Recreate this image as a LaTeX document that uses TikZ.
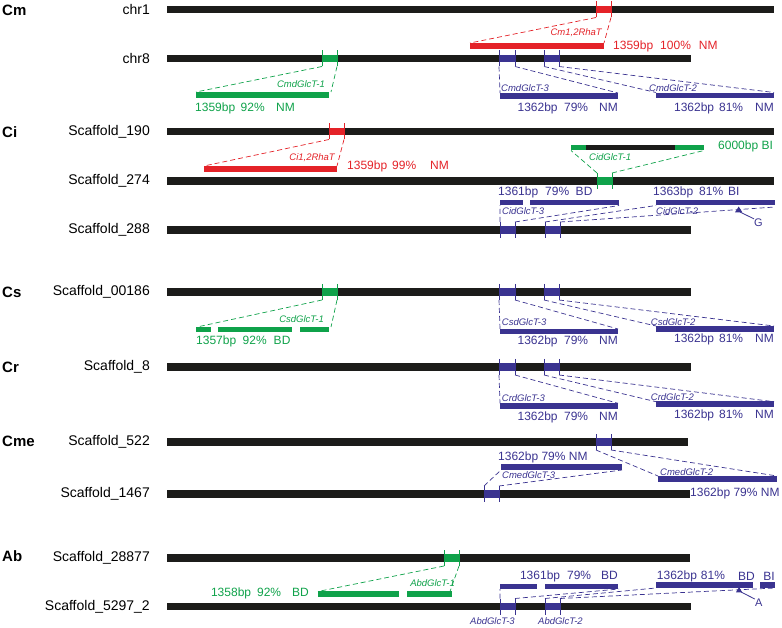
\documentclass[tikz,border=0pt]{standalone}
\usepackage{fontspec}
\setmainfont{Liberation Sans}
\definecolor{chrc}{HTML}{1C1C1A}
\definecolor{rd}{HTML}{E42228}
\definecolor{gr}{HTML}{0FA24A}
\definecolor{bl}{HTML}{3A3390}
\newcommand\chrbar[4]{% name, y, xend, label
  \fill[chrc] (167,#2-3.75) rectangle (#3,#2+3.75);
  \node[chrlbl] (#1) at (150,#2) {#4};
}
\newcommand\hitbox[4]{% color, x1, x2, y
  \fill[#1] (#2,#4-3.75) rectangle (#3,#4+3.75);
  \draw[#1,tickln] (#2,#4-8) -- (#2,#4+8) (#3,#4-8) -- (#3,#4+8);
}
\newcommand\gbar[4]{% color, x1, x2, ycenter
  \fill[#1] (#2,#4-2.75) rectangle (#3,#4+2.75);
}
\begin{document}
\begin{tikzpicture}[x=1pt,y=-1pt,
  chrlbl/.style={anchor=east,inner sep=0,font=\fontsize{14}{16}\selectfont},
  sp/.style={anchor=west,inner sep=0,font=\fontsize{15}{17}\selectfont\bfseries},
  stat/.style={inner sep=0,font=\fontsize{12}{14}\selectfont},
  gname/.style={inner sep=0,font=\fontsize{9.5}{11}\selectfont\itshape},
  tickln/.style={line width=0.8pt},
  dsh/.style={line width=0.7pt,dash pattern=on 5pt off 3pt}]
\useasboundingbox (0,0) rectangle (782,628);

% ---------------- Cm ----------------
\node[sp] (Cm) at (2,10) {Cm};
\chrbar{c1}{9.5}{774}{chr1}
\chrbar{c8}{58.5}{691}{chr8}
\hitbox{rd}{596}{611}{9.5}
\gbar{rd}{470}{604}{46}
\draw[rd,dsh] (596,17.5) -- (470,43) (611,17.5) -- (604,43);
\node[gname,text=rd,anchor=east] (cmrha) at (602,33) {Cm1,2RhaT};
\node[stat,text=rd,anchor=west] (cmrhas) at (613,46) {1359bp\hspace{7pt}100\%\hspace{8pt}NM};

\hitbox{gr}{322}{337}{58.5}
\gbar{gr}{196}{329}{95}
\draw[gr,dsh] (322,66.5) -- (196,92) (337,66.5) -- (331,92);
\node[gname,text=gr,anchor=east] (cmg1) at (325,84) {CmdGlcT-1};
\node[stat,text=gr,anchor=west] (cmg1s) at (195,108) {1359bp\hspace{5.5pt}92\%\hspace{11.5pt}NM};

\hitbox{bl}{499}{515}{58.5}
\hitbox{bl}{544}{559}{58.5}
\gbar{bl}{500}{618}{96}
\gbar{bl}{656}{774}{95.3}
\draw[bl,dsh] (499,66.5) -- (500,93) (515,66.5) -- (618,93)
  (544,66.5) -- (656,92.5) (559,66.5) -- (774,92.5);
\node[gname,text=bl,anchor=west] (cmg3) at (501,88.5) {CmdGlcT-3};
\node[gname,text=bl,anchor=west] (cmg2) at (649,88) {CmdGlcT-2};
\node[stat,text=bl,anchor=east] (cmg3s) at (618,108) {1362bp\hspace{6.5pt}79\%\hspace{11pt}NM};
\node[stat,text=bl,anchor=east] (cmg2s) at (774,108) {1362bp\hspace{5pt}81\%\hspace{12pt}NM};

% ---------------- Ci ----------------
\node[sp] (Ci) at (2,132) {Ci};
\chrbar{s190}{131.5}{774}{Scaffold\_190}
\chrbar{s274}{181}{774}{Scaffold\_274}
\chrbar{s288}{230}{691}{Scaffold\_288}
\hitbox{rd}{329}{344}{131.5}
\gbar{rd}{204}{337}{169}
\draw[rd,dsh] (329,139.5) -- (204,166) (344,139.5) -- (337,166);
\node[gname,text=rd,anchor=east] (cirha) at (335,158) {Ci1,2RhaT};
\node[stat,text=rd,anchor=west] (cirhas) at (347,166) {1359bp\hspace{5pt}99\%\hspace{14pt}NM};

\hitbox{gr}{597}{612}{181}
\fill[gr] (571,145.5) rectangle (704,150.5);
\fill[chrc] (586,145.5) rectangle (675,150.5);
\draw[gr,dsh] (597,173) -- (571,150.5) (612,173) -- (704,150.5);
\node[gname,text=gr,anchor=west] (cig1) at (589,157.5) {CidGlcT-1};
\node[stat,text=gr,anchor=west] (cig1s) at (718,146) {6000bp BI};

\hitbox{bl}{500}{515}{230}
\hitbox{bl}{545}{560}{230}
\gbar{bl}{500}{523}{202.5}
\gbar{bl}{530}{619}{202.5}
\gbar{bl}{656}{775}{202.5}
\draw[bl,dsh] (500,222) -- (500,205.5) (515,222) -- (619,205.5)
  (545,222) -- (656,205.5) (560,222) -- (775,207);
\node[stat,text=bl,anchor=west] (cig3s) at (498,192.5) {1361bp\hspace{7pt}79\%\hspace{6.5pt}BD};
\node[stat,text=bl,anchor=west] (cig2s) at (653,192.5) {1363bp\hspace{6pt}81\%\hspace{5pt}BI};
\node[gname,text=bl,anchor=west] (cig3) at (502,211) {CidGlcT-3};
\node[gname,text=bl,anchor=west] (cig2) at (656,211) {CidGlcT-2};
\fill[bl] (738.7,206.5) -- (742.3,212.3) -- (735,212.3) -- cycle;
\coordinate (triG) at (740,212);
\node[inner sep=0,text=bl,font=\fontsize{11}{13}\selectfont] (G) at (758.5,223) {G};
\draw[bl,line width=0.8pt] (triG) -- (G.north west);

% ---------------- Cs ----------------
\node[sp] (Cs) at (2,292) {Cs};
\chrbar{s186}{292}{691}{Scaffold\_00186}
\hitbox{gr}{322}{337}{292}
\gbar{gr}{196}{211}{329.5}
\gbar{gr}{218}{292}{329.5}
\gbar{gr}{300}{329}{329.5}
\draw[gr,dsh] (322,300) -- (197,327) (337,300) -- (331,327);
\node[gname,text=gr,anchor=east] (csg1) at (324,319) {CsdGlcT-1};
\node[stat,text=gr,anchor=west] (csg1s) at (196,341.5) {1357bp\hspace{6.5pt}92\%\hspace{7pt}BD};

\hitbox{bl}{499}{515}{292}
\hitbox{bl}{544}{559}{292}
\gbar{bl}{500}{618}{331.5}
\gbar{bl}{656}{774}{328.8}
\draw[bl,dsh] (499,300) -- (500,329) (515,300) -- (618,329)
  (544,300) -- (656,326) (559,300) -- (774,326);
\node[gname,text=bl,anchor=west] (csg3) at (501.7,322.5) {CsdGlcT-3};
\node[gname,text=bl,anchor=west] (csg2) at (650.7,321.7) {CsdGlcT-2};
\node[stat,text=bl,anchor=east] (csg3s) at (618,341.7) {1362bp\hspace{6.5pt}79\%\hspace{11pt}NM};
\node[stat,text=bl,anchor=east] (csg2s) at (774,339.3) {1362bp\hspace{5pt}81\%\hspace{12pt}NM};

% ---------------- Cr ----------------
\node[sp] (Cr) at (2,367) {Cr};
\chrbar{s8}{367}{691}{Scaffold\_8}
\hitbox{bl}{499}{515}{367}
\hitbox{bl}{544}{559}{367}
\gbar{bl}{500}{618}{405.8}
\gbar{bl}{656}{774}{404.2}
\draw[bl,dsh] (499,375) -- (500,403.3) (515,375) -- (618,403.3)
  (544,375) -- (656,401.7) (559,375) -- (774,401.7);
\node[gname,text=bl,anchor=west] (crg3) at (501.7,397.7) {CrdGlcT-3};
\node[gname,text=bl,anchor=west] (crg2) at (650.7,396.7) {CrdGlcT-2};
\node[stat,text=bl,anchor=east] (crg3s) at (618,417) {1362bp\hspace{6.5pt}79\%\hspace{11pt}NM};
\node[stat,text=bl,anchor=east] (crg2s) at (774,415.5) {1362bp\hspace{5pt}81\%\hspace{12pt}NM};

% ---------------- Cme ----------------
\node[sp] (Cme) at (2,441) {Cme};
\chrbar{s522}{442}{688}{Scaffold\_522}
\chrbar{s1467}{494}{690}{Scaffold\_1467}
\hitbox{bl}{596}{611}{442}
\gbar{bl}{658}{777}{478.8}
\draw[bl,dsh] (596,450) -- (658,476) (611,450) -- (777,476);
\hitbox{bl}{484}{499}{494}
\gbar{bl}{501}{622}{467.2}
\draw[bl,dsh] (484,486) -- (501,470) (499,486) -- (622,470);
\node[stat,text=bl,anchor=west] (cmeg3s) at (498,457) {1362bp 79\% NM};
\node[gname,text=bl,anchor=west] (cmeg3) at (502,475) {CmedGlcT-3};
\node[gname,text=bl,anchor=west] (cmeg2) at (660,471.7) {CmedGlcT-2};
\node[stat,text=bl,anchor=west] (cmeg2s) at (690,493.5) {1362bp 79\% NM};

% ---------------- Ab ----------------
\node[sp] (Ab) at (2,556.5) {Ab};
\chrbar{s28877}{558}{690}{Scaffold\_28877}
\chrbar{s5297}{606.5}{691}{Scaffold\_5297\_2}
\hitbox{gr}{444}{459}{558}
\gbar{gr}{318}{399}{594.2}
\gbar{gr}{407}{452}{594.2}
\draw[gr,dsh] (444,566) -- (318,591.5) (459,566) -- (450,591.5);
\node[gname,text=gr,anchor=east] (abg1) at (455,583) {AbdGlcT-1};
\node[stat,text=gr,anchor=east] (abg1s) at (309,593) {1358bp\hspace{6pt}92\%\hspace{11pt}BD};

\hitbox{bl}{500}{515}{606.5}
\hitbox{bl}{545}{560}{606.5}
\gbar{bl}{500}{537}{586.7}
\gbar{bl}{545}{618}{586.7}
\gbar{bl}{656}{752.7}{585}
\gbar{bl}{760}{775}{585}
\draw[bl,dsh] (500,598.5) -- (500,589) (515,598.5) -- (619,589)
  (545,598.5) -- (656,588) (560,598.5) -- (775,588);
\node[stat,text=bl,anchor=east] (abg3s) at (618,576.7) {1361bp\hspace{7pt}79\%\hspace{10pt}BD};
\node[stat,text=bl,anchor=west] (abg2s) at (656.7,576.7) {1362bp\hspace{4pt}81\%};
\node[stat,text=bl,anchor=east] (abbd) at (755,576.7) {BD};
\node[stat,text=bl,anchor=east] (abbi) at (775,576.7) {BI};
\fill[bl] (739,587) -- (742.2,592.3) -- (736,592.3) -- cycle;
\coordinate (triA) at (741,592);
\node[inner sep=0,text=bl,font=\fontsize{11}{13}\selectfont] (A) at (758.7,603) {A};
\draw[bl,line width=0.8pt] (triA) -- (A.north west);
\node[gname,text=bl,anchor=west] (abg3) at (470,621) {AbdGlcT-3};
\node[gname,text=bl,anchor=west] (abg2) at (538,621) {AbdGlcT-2};
\end{tikzpicture}
\end{document}
